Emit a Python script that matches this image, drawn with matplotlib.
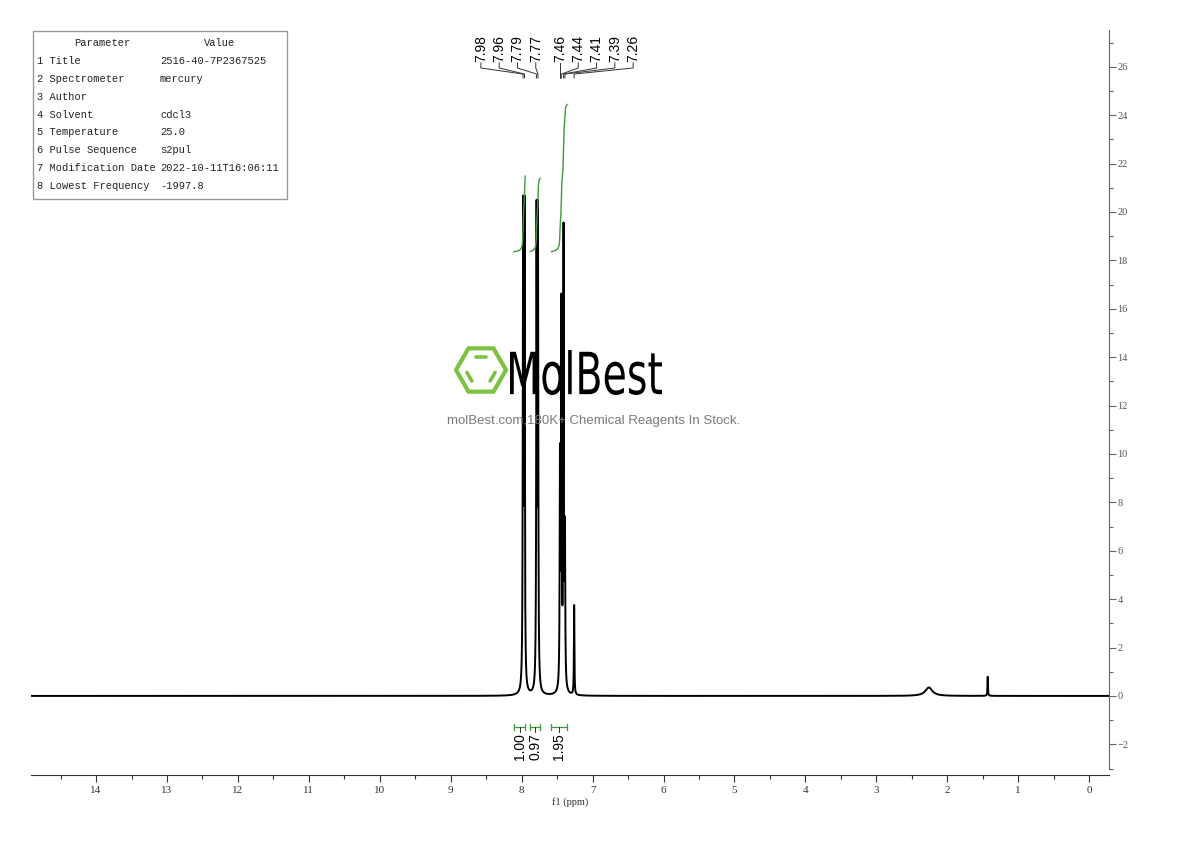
import numpy as np
import matplotlib
matplotlib.use("Agg")
import matplotlib.pyplot as plt
from matplotlib.patches import Rectangle, Polygon, PathPatch
from matplotlib.textpath import TextPath
from matplotlib.font_manager import FontProperties
from matplotlib.transforms import Affine2D

# peaks (ppm, height, half width)
peak_ppm = [7.98, 7.96, 7.79, 7.77, 7.46, 7.44, 7.41, 7.39, 7.26, 2.26, 1.43]
peak_height = [19.5, 19.5, 19.4, 19.4, 9.3, 15.5, 18.8, 6.1, 3.7, 0.35, 0.8]
peak_width = [0.005, 0.005, 0.005, 0.005, 0.005, 0.005, 0.005, 0.005, 0.004, 0.06, 0.004]

# labelled peaks at the top
label_ppm = ["7.98", "7.96", "7.79", "7.77", "7.46", "7.44", "7.41", "7.39", "7.26"]

# integrals
integral_from = [8.11, 7.88, 7.58]
integral_to = [7.95, 7.74, 7.36]
integral_val = [1.00, 0.97, 1.95]

param_names = ["1 Title", "2 Spectrometer", "3 Author", "4 Solvent", "5 Temperature",
               "6 Pulse Sequence", "7 Modification Date", "8 Lowest Frequency"]
param_values = ["2516-40-7P2367525", "mercury", "", "cdcl3", "25.0", "s2pul",
                "2022-10-11T16:06:11", "-1997.8"]

W, H = 1190, 841
fig = plt.figure(figsize=(W / 100, H / 100), dpi=100)

def fx(x):
    return x / W

def fy(y):
    return 1 - y / H

ax = fig.add_axes([fx(31), fy(769), (1109 - 31) / W, (769 - 30) / H])

x = np.arange(14.92, -0.29, -0.0008)
y = np.zeros_like(x)
for p, h, g in zip(peak_ppm, peak_height, peak_width):
    y += h * g ** 2 / ((x - p) ** 2 + g ** 2)

ax.plot(x, y, color="black", lw=1.4, zorder=3)

# integral curves
green = "#3d9a3d"
scale = 3.12
base = 18.36
for a, b, v in zip(integral_from, integral_to, integral_val):
    m = (x <= a) & (x >= b)
    c = np.cumsum(y[m])
    c = c / c[-1] * v * scale + base
    ax.plot(x[m], c, color=green, lw=1.0, zorder=4)
    # bracket at the bottom
    yb = -1.28
    ax.plot([a, b], [yb, yb], color=green, lw=0.9)
    ax.plot([a, a], [yb - 0.13, yb + 0.13], color=green, lw=0.9)
    ax.plot([b, b], [yb - 0.13, yb + 0.13], color=green, lw=0.9)
    mid = (a + b) / 2
    ax.plot([mid, mid], [yb, yb - 0.22], color="#333333", lw=0.7)
    ax.text(mid, yb - 0.25, f"{v:.2f}", rotation=90, ha="center", va="top",
            fontsize=10, family="Liberation Sans")

# peak labels with leader lines
step = 0.258
lab_x = [8.575 - step * i for i in range(4)] + [7.46 - step * i for i in range(5)]
for lx, s in zip(lab_x, label_ppm):
    p = float(s)
    ax.text(lx, 26.2, s, rotation=90, ha="center", va="bottom", fontsize=10,
            family="Liberation Sans")
    ax.plot([lx, lx, p, p], [26.16, 25.95, 25.70, 25.54], color="#333333", lw=0.7,
            clip_on=False)

ax.set_xlim(14.917, -0.28)
ax.set_ylim(-3.02, 27.52)

for s in ["left", "top"]:
    ax.spines[s].set_visible(False)
ax.spines["bottom"].set_position(("outward", 4))
ax.spines["bottom"].set_color("#333333")
ax.spines["right"].set_color("#666666")
ax.yaxis.tick_right()
ax.set_xticks(np.arange(0, 15, 1))
ax.set_xticks(np.arange(0.5, 15, 1), minor=True)
ax.set_yticks(np.arange(-2, 27, 2))
ax.set_yticks(np.arange(-3, 28, 1), minor=True)
ax.tick_params(axis="x", which="major", length=5, width=0.8, color="#333333",
               labelsize=8, pad=3, labelcolor="#333333")
ax.tick_params(axis="x", which="minor", length=3, width=0.8, color="#333333")
ax.tick_params(axis="y", which="major", length=5, width=0.8, color="#666666",
               labelsize=7.5, pad=1, labelcolor="#555555")
ax.tick_params(axis="y", which="minor", length=3, width=0.8, color="#666666")
for t in ax.get_xticklabels() + ax.get_yticklabels():
    t.set_family("Liberation Serif")
ax.set_xlabel("f1 (ppm)", fontsize=7.5, family="Liberation Serif", labelpad=2,
              color="#333333")

# parameter table
fig.patches.append(Rectangle((fx(33), fy(199)), (287 - 33) / W, (199 - 31) / H,
                             transform=fig.transFigure, fill=False,
                             edgecolor="#999999", lw=1.0))
tf = dict(family="Liberation Mono", fontsize=7.5, color="#222222", va="center")
fig.text(fx(102), fy(43), "Parameter", ha="center", **tf)
fig.text(fx(220), fy(43), "Value", ha="center", **tf)
for i, (n, v) in enumerate(zip(param_names, param_values)):
    yy = 61 + 17.86 * i
    fig.text(fx(37), fy(yy), n, ha="left", **tf)
    fig.text(fx(160), fy(yy), v, ha="left", **tf)

# watermark logo
lg = "#7cc242"
cx, cy, r = 481, 370, 25
ang = np.deg2rad(np.arange(0, 360, 60))
hx = cx + r * np.cos(ang)
hy = cy - r * np.sin(ang)
fig.patches.append(Polygon(np.c_[fx(hx), fy(hy)], closed=True, fill=False,
                           edgecolor=lg, lw=3, transform=fig.transFigure))
ri = 15.5
for k in [1, 3, 5]:
    a0, a1 = np.deg2rad(60 * k), np.deg2rad(60 * (k + 1))
    x0, y0 = cx + ri * np.cos(a0), cy - ri * np.sin(a0)
    x1, y1 = cx + ri * np.cos(a1), cy - ri * np.sin(a1)
    xs = [x0 + 0.18 * (x1 - x0), x1 - 0.18 * (x1 - x0)]
    ys = [y0 + 0.18 * (y1 - y0), y1 - 0.18 * (y1 - y0)]
    fig.lines.append(plt.Line2D(fx(np.array(xs)), fy(np.array(ys)), color=lg, lw=2.6,
                                solid_capstyle="round", transform=fig.transFigure))

tp = TextPath((0, 0), "MolBest", size=1, prop=FontProperties(family="DejaVu Sans"))
ext = tp.get_extents()
sx = 152 / ext.width
sy = 45 / ext.height
tr = (Affine2D().translate(-ext.x0, -ext.y0).scale(sx / W, sy / H)
      .translate(fx(510), fy(395)) + fig.transFigure)
fig.patches.append(PathPatch(tp, facecolor="black", edgecolor="none", transform=tr,
                             zorder=5))
fig.text(fx(594), fy(421), "molBest.com,180K+ Chemical Reagents In Stock.",
         ha="center", va="center", fontsize=9.5, color="#7a7a7a",
         family="Liberation Sans")

fig.savefig("out.png", dpi=100)
